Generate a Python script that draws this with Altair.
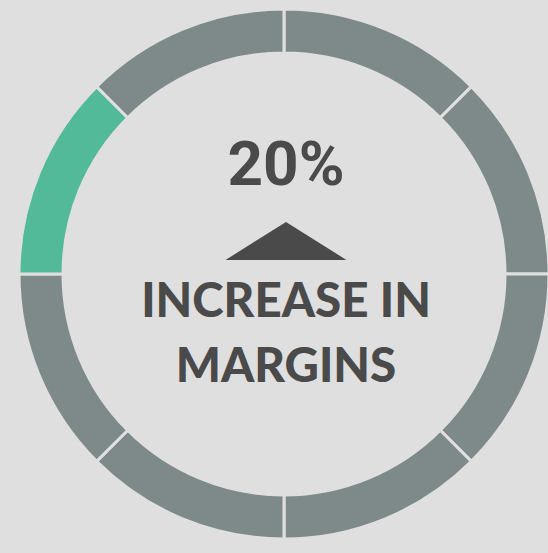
import altair as alt
import pandas as pd

segments = list(range(1, 9))
values = [1, 1, 1, 1, 1, 1, 1, 1]
status = ["other", "other", "other", "other", "other", "other", "highlight", "other"]
percent_label = ["20%"]
caption_lines = ["INCREASE IN", "MARGINS"]

BG = "#dfdfdf"
CX, CY = 284, 274

df = pd.DataFrame({"seg": segments, "value": values, "status": status})

ring = alt.Chart(df).mark_arc(
    radius=265, radius2=221, stroke=BG, strokeWidth=3
).encode(
    theta=alt.Theta("value:Q", stack=True),
    order=alt.Order("seg:O"),
    color=alt.Color("status:N",
                    scale=alt.Scale(domain=["other", "highlight"], range=["#7d8a89", "#52ba99"]),
                    legend=None),
    x=alt.value(CX), y=alt.value(CY),
)

pct = alt.Chart(pd.DataFrame({"t": percent_label})).mark_text(
    font="Roboto", fontWeight="bold", fontSize=62, color="#4a4a4a", baseline="alphabetic", align="center"
).encode(text="t:N", x=alt.value(286), y=alt.value(185))

tri = alt.Chart(pd.DataFrame({"k": ["up"]})).mark_point(
    shape="M-1,0.314 L1,0.314 L0,-0.314 Z", size=121 * 121, filled=True, opacity=1, color="#4a4a4a", strokeWidth=0
).encode(x=alt.value(286), y=alt.value(241))

cap_df = pd.DataFrame({"t": caption_lines, "yy": [317, 382]})
cap = alt.Chart(cap_df).mark_text(
    font="Lato", fontWeight=900, fontSize=47.5, color="#4a4a4a", baseline="alphabetic", align="center"
).encode(text="t:N", x=alt.value(286), y=alt.Y("yy:Q", scale=None, axis=None))

chart = alt.layer(ring, pct, tri, cap).properties(
    width=548, height=553, padding=0, autosize=alt.AutoSizeParams(type="none"), background=BG
).configure_view(stroke=None, fill=BG)

chart.save("out.html", embed_options={"renderer": "svg", "actions": False})
